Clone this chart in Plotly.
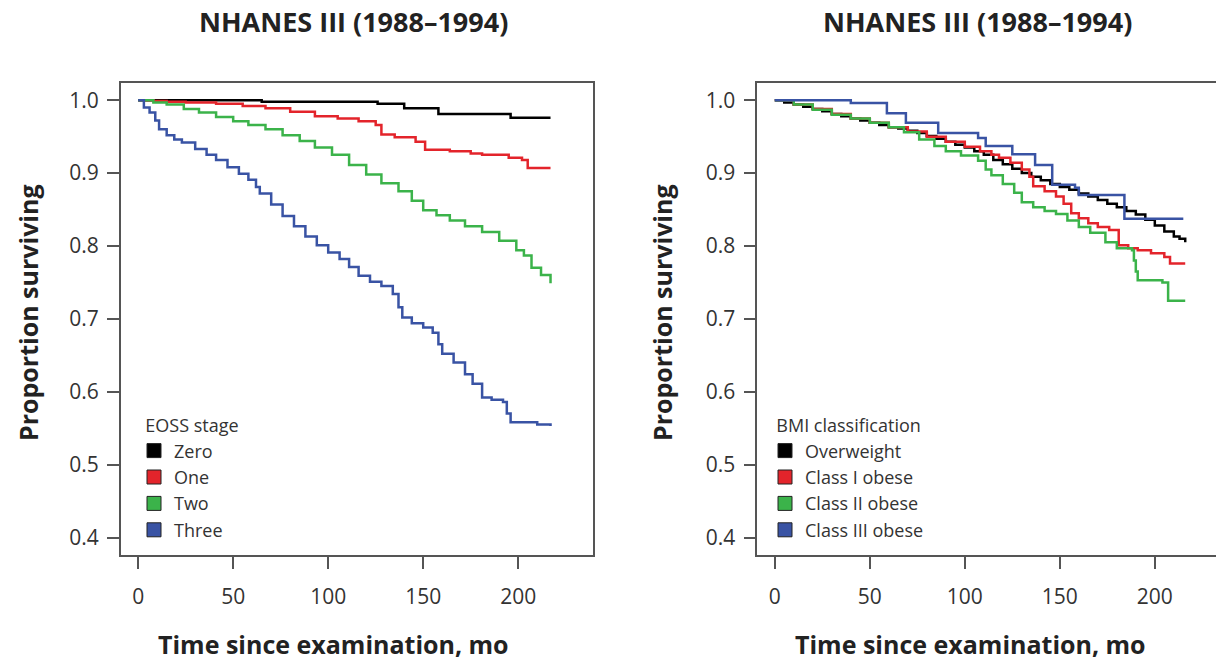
import plotly.graph_objects as go

# ---- EOSS stage (left panel) ----
zero_t = [0, 65, 126, 140, 158, 196, 217]
zero_s = [1.0, 0.998, 0.995, 0.989, 0.981, 0.976, 0.976]

one_t = [0, 8, 15, 25, 41, 55, 67, 80, 93, 105, 116, 125, 128, 135, 146, 151, 164, 175, 181, 195, 202, 205, 217]
one_s = [1.0, 0.999, 0.998, 0.997, 0.995, 0.992, 0.989, 0.984, 0.978, 0.975, 0.971, 0.966, 0.953, 0.949,
         0.943, 0.932, 0.930, 0.927, 0.925, 0.921, 0.918, 0.907, 0.907]

two_t = [0, 8, 15, 24, 32, 41, 50, 58, 67, 76, 85, 93, 102, 111, 120, 128, 137, 144, 150, 157, 164, 172,
         181, 190, 199, 203, 207, 212, 217]
two_s = [1.0, 0.997, 0.994, 0.988, 0.983, 0.977, 0.971, 0.966, 0.960, 0.952, 0.944, 0.935, 0.925, 0.911,
         0.898, 0.886, 0.875, 0.862, 0.849, 0.842, 0.835, 0.827, 0.819, 0.807, 0.794, 0.787, 0.770, 0.760, 0.749]

three_t = [0, 3, 6, 9, 11, 15, 19, 23, 30, 36, 41, 47, 53, 58, 62, 64, 70, 76, 82, 88, 94, 100, 106, 111,
           116, 122, 128, 134, 137, 139, 144, 150, 155, 158, 160, 166, 172, 176, 181, 186, 192, 194, 196,
           205, 210, 217]
three_s = [1.0, 0.99, 0.983, 0.972, 0.960, 0.952, 0.946, 0.942, 0.933, 0.925, 0.918, 0.908, 0.899, 0.891,
           0.881, 0.872, 0.857, 0.841, 0.827, 0.813, 0.801, 0.791, 0.782, 0.771, 0.759, 0.751, 0.745, 0.734,
           0.716, 0.702, 0.694, 0.688, 0.681, 0.665, 0.652, 0.640, 0.624, 0.611, 0.592, 0.589, 0.586, 0.570,
           0.558, 0.558, 0.555, 0.553]

# ---- BMI classification (right panel) ----
ow_t = [0, 5, 10, 15, 20, 25, 30, 35, 40, 45, 50, 55, 60, 65, 70, 75, 80, 85, 90, 95, 100, 105, 110, 115,
        120, 125, 130, 135, 140, 145, 150, 155, 160, 165, 170, 175, 180, 185, 190, 195, 200, 205, 210, 213, 216]
ow_s = [1.0, 0.997, 0.994, 0.991, 0.988, 0.985, 0.981, 0.978, 0.975, 0.972, 0.969, 0.966, 0.963, 0.961,
        0.958, 0.955, 0.951, 0.947, 0.943, 0.939, 0.935, 0.930, 0.925, 0.918, 0.912, 0.906, 0.900, 0.895,
        0.890, 0.885, 0.881, 0.877, 0.872, 0.868, 0.863, 0.858, 0.853, 0.848, 0.843, 0.836, 0.828, 0.820,
        0.813, 0.810, 0.805]

c1_t = [0, 10, 20, 30, 40, 50, 60, 70, 80, 90, 100, 108, 114, 118, 124, 130, 134, 136, 142, 148, 152, 156,
        160, 165, 170, 176, 181, 186, 191, 198, 205, 208, 216]
c1_s = [1.0, 0.994, 0.988, 0.981, 0.975, 0.969, 0.963, 0.957, 0.950, 0.943, 0.936, 0.930, 0.925, 0.921,
        0.914, 0.905, 0.895, 0.882, 0.875, 0.868, 0.858, 0.845, 0.838, 0.831, 0.826, 0.822, 0.801, 0.797,
        0.794, 0.790, 0.785, 0.776, 0.776]

c2_t = [0, 10, 20, 30, 40, 50, 60, 68, 76, 84, 90, 98, 107, 111, 114, 120, 126, 130, 136, 142, 148, 154,
        160, 166, 174, 180, 188, 189, 190, 191, 204, 207, 216]
c2_s = [1.0, 0.994, 0.987, 0.980, 0.975, 0.969, 0.963, 0.956, 0.946, 0.937, 0.930, 0.924, 0.917, 0.905,
        0.897, 0.885, 0.873, 0.860, 0.853, 0.848, 0.844, 0.835, 0.826, 0.818, 0.805, 0.797, 0.794, 0.780,
        0.765, 0.753, 0.750, 0.725, 0.725]

c3_t = [0, 40, 59, 69, 86, 107, 111, 125, 137, 146, 158, 160, 184, 215]
c3_s = [1.0, 0.996, 0.982, 0.969, 0.955, 0.948, 0.937, 0.926, 0.911, 0.884, 0.880, 0.870, 0.8375, 0.8375]

eoss_names = ['Zero', 'One', 'Two', 'Three']
bmi_names = ['Overweight', 'Class I obese', 'Class II obese', 'Class III obese']
colors = ['#000000', '#e3242b', '#3bb34a', '#3953a4']

left = [(zero_t, zero_s), (one_t, one_s), (two_t, two_s), (three_t, three_s)]
right = [(ow_t, ow_s), (c1_t, c1_s), (c2_t, c2_s), (c3_t, c3_s)]

FONT = 'Open Sans'
TXT = '#333333'

fig = go.Figure()

for (t, s), col in zip(left, colors):
    fig.add_trace(go.Scatter(x=t, y=s, mode='lines', line=dict(color=col, width=2.5, shape='hv'),
                             showlegend=False, xaxis='x', yaxis='y', hoverinfo='skip'))
for (t, s), col in zip(right, colors):
    fig.add_trace(go.Scatter(x=t, y=s, mode='lines', line=dict(color=col, width=2.5, shape='hv'),
                             showlegend=False, xaxis='x2', yaxis='y2', hoverinfo='skip'))

# legend swatches
for name, col in zip(eoss_names, colors):
    fig.add_trace(go.Scatter(x=[None], y=[None], mode='markers', name=name,
                             marker=dict(symbol='square', size=14, color=col, line=dict(color='#222', width=1)),
                             legend='legend', xaxis='x', yaxis='y'))
for name, col in zip(bmi_names, colors):
    fig.add_trace(go.Scatter(x=[None], y=[None], mode='markers', name=name,
                             marker=dict(symbol='square', size=14, color=col, line=dict(color='#222', width=1)),
                             legend='legend2', xaxis='x2', yaxis='y2'))

W, H = 1216, 660
axis_common = dict(showgrid=False, zeroline=False, showline=True, linecolor='#555', linewidth=1.5,
                   ticks='outside', ticklen=12, tickwidth=1.5, tickcolor='#555',
                   tickfont=dict(family=FONT, size=21, color=TXT))

yr = [0.376, 1.024]
yticks = [0.4, 0.5, 0.6, 0.7, 0.8, 0.9, 1.0]
ytext = ['0.4', '0.5', '0.6', '0.7', '0.8', '0.9', '1.0']
xticks = [0, 50, 100, 150, 200]

NB = '\u00a0\u00a0'
LEG = 18
fig.update_layout(
    width=W, height=H,
    margin=dict(l=0, r=0, t=0, b=0),
    paper_bgcolor='white', plot_bgcolor='white',
    xaxis=dict(domain=[120.7 / W, 592.7 / W], range=[-9.2, 239.2], tickvals=xticks, mirror=True,
               anchor='y', ticklabelstandoff=10, **axis_common),
    yaxis=dict(domain=[1 - 555 / H, 1 - 82.7 / H], range=yr, tickvals=yticks, ticktext=ytext, mirror=True,
               anchor='x', ticklabelstandoff=4, **axis_common),
    xaxis2=dict(domain=[757.3 / W, 1.0], range=[-9.2, 232.2], tickvals=xticks, mirror=True,
                anchor='y2', ticklabelstandoff=10, **axis_common),
    yaxis2=dict(domain=[1 - 555 / H, 1 - 82.7 / H], range=yr, tickvals=yticks, ticktext=ytext, mirror=False,
                anchor='x2', ticklabelstandoff=4, **axis_common),
    legend=dict(x=134 / W, y=1 - 409 / H, xanchor='left', yanchor='top', bgcolor='rgba(0,0,0,0)',
                title=dict(text=NB + 'EOSS stage', font=dict(family=FONT, size=LEG, color=TXT)),
                font=dict(family=FONT, size=LEG, color=TXT), tracegroupgap=0),
    legend2=dict(x=765 / W, y=1 - 409 / H, xanchor='left', yanchor='top', bgcolor='rgba(0,0,0,0)',
                 title=dict(text=NB + 'BMI classification', font=dict(family=FONT, size=LEG, color=TXT)),
                 font=dict(family=FONT, size=LEG, color=TXT), tracegroupgap=0),
)

annos = [
    dict(text='<b>NHANES III (1988–1994)</b>', x=353 / W, y=1 - 22 / H, size=27),
    dict(text='<b>NHANES III (1988–1994)</b>', x=977 / W, y=1 - 22 / H, size=27),
    dict(text='<b>Time since examination, mo</b>', x=333 / W, y=1 - 644 / H, size=25),
    dict(text='<b>Time since examination, mo</b>', x=970 / W, y=1 - 644 / H, size=25),
    dict(text='<b>Proportion surviving</b>', x=28 / W, y=1 - 313 / H, textangle=-90, size=25),
    dict(text='<b>Proportion surviving</b>', x=662 / W, y=1 - 313 / H, textangle=-90, size=25),
]
for a in annos:
    size = a.pop('size')
    fig.add_annotation(xref='paper', yref='paper', showarrow=False, xanchor='center', yanchor='middle',
                       font=dict(family=FONT, size=size, color='#222222'), **a)

# drop the default page margin so the figure sits at the window's top-left corner
fig.write_html("out.html", config={'displayModeBar': False},
               post_script="document.body.style.margin='0px';")
